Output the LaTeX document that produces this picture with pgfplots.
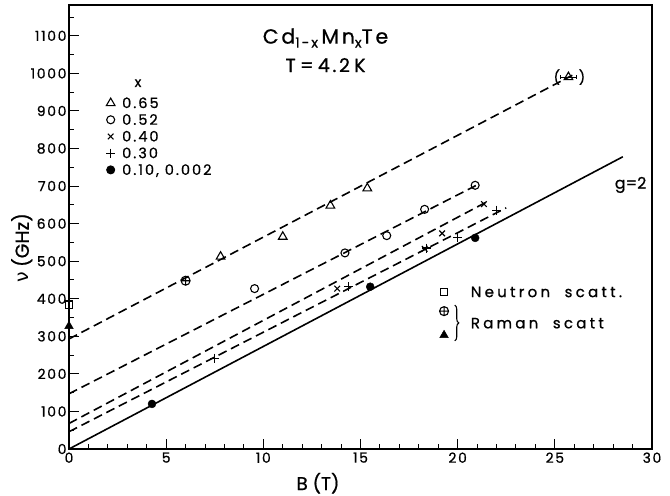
\documentclass[border=0pt]{standalone}
\usepackage{fontspec}
\setmainfont{Poppins}[FakeBold=0.8]
\newfontfamily\grk{DejaVu Sans}
\newfontfamily\sptick{Poppins}[LetterSpace=12, FakeBold=0.8]
\newfontfamily\splab{Poppins}[LetterSpace=14, FakeBold=0.8]
\newfontfamily\spwide{Poppins}[LetterSpace=22, FakeBold=0.8]
\usepackage{pgfplots}
\pgfplotsset{compat=1.18}
\usetikzlibrary{decorations.pathreplacing}
\begin{document}
\begin{tikzpicture}
\path[use as bounding box] (-69bp,-47bp) rectangle (601bp,449bp);
\begin{axis}[
  at={(0,0)}, anchor=south west,
  scale only axis, width=583bp, height=444bp,
  xmin=0, xmax=30, ymin=0, ymax=1182,
  xtick={0,5,...,30}, minor xtick={1,...,29},
  ytick={0,100,...,1100}, minor ytick={50,150,...,1150},
  tick align=inside, xtick pos=bottom, ytick pos=left,
  major tick length=10bp, minor tick length=5bp,
  every tick/.style={black, line width=1pt},
  axis line style={line width=1.4pt},
  clip=false,
  /pgf/number format/assume math mode=true,
  /pgf/number format/1000 sep={},
  ticklabel style={font=\sptick\fontsize{14}{14}\selectfont},
  yticklabel style={xshift=1bp},
  xlabel={B (T)}, ylabel={{\grk ν} (GHz)},
  every axis x label/.style={at={(axis description cs:0.427,-0.077)}, anchor=center, font=\fontsize{18.5}{18.5}\selectfont},
  every axis y label/.style={at={(axis description cs:-0.081,0.453)}, anchor=center, rotate=90, font=\fontsize{19}{19}\selectfont},
  legend style={draw=none, fill=none, at={(axis cs:1.75,940)}, anchor=north west,
    font=\splab\fontsize{14.5}{14.5}\selectfont, row sep=6.7bp,
    nodes={text height=10bp, text depth=0bp, inner sep=0pt},
    /tikz/every odd column/.append style={column sep=7bp}},
  legend cell align=left,
  legend image post style={line width=1pt},
]
% fitted lines
\addplot[black, line width=1.6pt, dash pattern=on 9bp off 5bp, forget plot] coordinates {(0,293) (25.9,995)};
\addplot[black, line width=1.6pt, dash pattern=on 9bp off 5bp, forget plot] coordinates {(0,147) (21.0,703)};
\addplot[black, line width=1.6pt, dash pattern=on 9bp off 5bp, forget plot] coordinates {(0,68) (21.5,658)};
\addplot[black, line width=1.6pt, dash pattern=on 9bp off 5bp, forget plot] coordinates {(0,46) (22.5,642)};
\addplot[black, line width=1.6pt, forget plot] coordinates {(0,0) (28.5,778)};
% data
\addplot[only marks, mark=triangle, mark size=5bp, mark options={line width=1.1pt, fill=white}] coordinates {(7.8,512) (11.0,565) (13.45,648) (15.35,694)};
\addlegendentry{0.65}
\addplot[only marks, mark=o, mark size=4bp, mark options={line width=1.1pt, fill=white}] coordinates {(9.55,427) (14.2,522) (16.35,568) (18.3,638) (20.9,702)};
\addlegendentry{0.52}
\addplot[only marks, mark=x, mark size=4bp, mark options={line width=1.1pt}] coordinates {(13.8,427) (18.3,533) (19.2,574) (21.35,652)};
\addlegendentry{0.40}
\addplot[only marks, mark=+, mark size=4.5bp, mark options={line width=1.1pt}] coordinates {(7.5,242) (14.4,432) (18.4,535) (20.0,562) (22.0,636)};
\addlegendentry{0.30}
\addplot[only marks, mark=*, mark size=4bp] coordinates {(4.27,120) (15.5,432) (20.9,562)};
\addlegendentry{0.10, 0.002}
% bracketed point with bar
\addplot[only marks, mark=triangle, mark size=5bp, mark options={line width=1.1pt, fill=white}, forget plot,
  error bars/.cd, x dir=both, x explicit, error bar style={line width=1pt}, error mark options={rotate=90, mark size=2bp}]
  coordinates {(25.7,990) +- (0.4,0)};
% other techniques
\addplot[only marks, mark=oplus, mark size=4.5bp, mark options={line width=1.1pt, fill=white}, forget plot] coordinates {(6.0,448)};
\addplot[only marks, mark=square, mark size=3.8bp, mark options={line width=1.1pt, fill=white}, forget plot] coordinates {(0,384)};
\addplot[only marks, mark=triangle*, mark size=5bp, forget plot] coordinates {(0,327)};
% key for techniques
\addplot[only marks, mark=square, mark size=3.5bp, mark options={line width=1.1pt}, forget plot] coordinates {(19.3,418)};
\addplot[only marks, mark=oplus, mark size=4.5bp, mark options={line width=1.1pt}, forget plot] coordinates {(19.3,367)};
\addplot[only marks, mark=triangle*, mark size=5bp, forget plot] coordinates {(19.3,303)};
\draw[line width=1.1pt, decorate, decoration={brace, amplitude=4bp}] (axis cs:19.85,383) -- (axis cs:19.85,288);
\node[anchor=west, font=\spwide\fontsize{15}{15}\selectfont] at (axis cs:20.5,418) {Neutron\ \ scatt.};
\node[anchor=west, font=\spwide\fontsize{15}{15}\selectfont] at (axis cs:20.5,335) {Raman\ \ scatt};
% annotations
\node[font=\splab\fontsize{14}{14}\selectfont] at (axis cs:3.55,974) {x};
\node[font=\splab\fontsize{20.5}{20.5}\selectfont] at (axis cs:13.2,1094) {Cd\raisebox{-4bp}{\fontsize{14}{14}\selectfont 1-x}\,Mn\raisebox{-4bp}{\fontsize{14}{14}\selectfont x}Te};
\node[font=\splab\fontsize{19}{19}\selectfont] at (axis cs:13.2,1022) {T\:=\:4.2\:K};
\node[font=\fontsize{14}{14}\selectfont] at (axis cs:25.1,990) {(};
\node[font=\fontsize{14}{14}\selectfont] at (axis cs:26.4,990) {)};
\node[font=\fontsize{16}{16}\selectfont] at (axis cs:28.9,703) {g=2};
\end{axis}
\end{tikzpicture}
\end{document}
